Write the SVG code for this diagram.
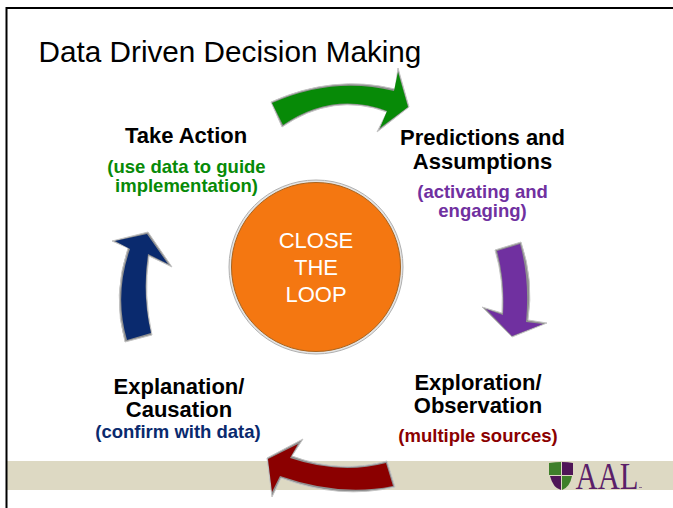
<svg xmlns="http://www.w3.org/2000/svg" width="673" height="508" viewBox="0 0 673 508">
<defs>
<filter id="bev" x="-20%" y="-20%" width="140%" height="140%"><feGaussianBlur stdDeviation="0.6"/></filter>
</defs>
<style>
text{font-family:"Liberation Sans",Arial,sans-serif;text-anchor:middle}
.h{font-size:22px;font-weight:bold;fill:#000}
.s{font-size:18.500px;font-weight:bold}
.c{font-size:22px;fill:#fff}
.edge{fill:#8f8f8f;stroke:#c4c4c4;stroke-width:1;stroke-linejoin:miter;filter:url(#bev)}
</style>
<rect width="673" height="508" fill="#fff"/>
<rect x="7" y="461" width="666" height="29" fill="#ddd9c3"/>
<path d="M6.500 508V8H673" fill="none" stroke="#000" stroke-width="2"/>
<text x="230" y="62" style="font-size:29.700px" fill="#000">Data Driven Decision Making</text>
<g id="connectors">
<g id="arrow-green">
<path class="edge" d="M271 102Q333 74 395 89L398 68L409 107L377 132L387 112Q333 92 282 127Z"/>
<path d="M272 103Q333 76 394 91L398 72L408 107L380 128L387 111Q333 91 283 125Z" fill="#078a07"/>
</g>
<g id="arrow-purple">
<path class="edge" d="M495 250L521 242Q534 280 528 320L547 323L512 337L482 307L502 313Q504 280 495 250Z"/>
<path d="M497 251L520 244Q530 280 526 322L543 324L512 336L486 309L503 315Q505 280 497 251Z" fill="#7030a0"/>
</g>
<g id="arrow-red">
<path class="edge" d="M387 461L395 487Q340 500 281 478L272 497L267 458L303 439L292 456Q340 474 387 461Z"/>
<path d="M386 463L393 486Q340 497 280 476L272 492L268 459L298 444L290 458Q340 475 386 463Z" fill="#8b0000"/>
</g>
<g id="arrow-navy">
<path class="edge" d="M125 342L152 335Q143 295 149 256L172 267L148 232L112 241L128 248Q112 295 125 342Z"/>
<path d="M127 340L151 333Q142 295 148 254L168 264L147 234L115 241L130 249Q114 295 127 340Z" fill="#0a2a6e"/>
</g>
</g>
<g id="node-center">
<circle cx="316" cy="267" r="87" fill="#e4e4e4" stroke="#b0b0b0" stroke-width="1"/>
<circle cx="316" cy="267" r="84.500" fill="#f47711" stroke="#a9641f" stroke-width="1"/>
<text class="c" x="316" y="248">CLOSE</text>
<text class="c" x="316" y="275">THE</text>
<text class="c" x="316" y="302">LOOP</text>
</g>
<g id="node-action">
<text class="h" x="186" y="143">Take Action</text>
<text class="s" x="186.500" y="173" fill="#078a07">(use data to guide</text>
<text class="s" x="186.500" y="192" fill="#078a07">implementation)</text>
</g>
<g id="node-predictions">
<text class="h" x="482.500" y="145">Predictions and</text>
<text class="h" x="482.500" y="169">Assumptions</text>
<text class="s" x="482.500" y="198" fill="#7030a0">(activating and</text>
<text class="s" x="482.500" y="217" fill="#7030a0">engaging)</text>
</g>
<g id="node-exploration">
<text class="h" x="478" y="390">Exploration/</text>
<text class="h" x="478" y="413">Observation</text>
<text class="s" x="478" y="442" fill="#8b0000">(multiple sources)</text>
</g>
<g id="node-explanation">
<text class="h" x="179" y="394">Explanation/</text>
<text class="h" x="179" y="417">Causation</text>
<text class="s" x="178" y="438" fill="#0a2a6e">(confirm with data)</text>
</g>
<g id="logo">
<path d="M549 463Q556 462 561 462V475H549Z" fill="#3f7f2a"/>
<path d="M562 462Q568 462 573 463V475H562Z" fill="#4f1657"/>
<path d="M550 476H561V490Q553 488 550 476Z" fill="#4f1657"/>
<path d="M562 476H572Q570 487 562 490Z" fill="#3f7f2a"/>
<text x="607" y="489" style="font-family:'Liberation Serif',serif;font-size:38px" fill="#5b1f69" textLength="63" lengthAdjust="spacingAndGlyphs">AAL</text>
<rect x="639" y="487" width="3" height="1" fill="#8a6f90"/>
</g>
</svg>
